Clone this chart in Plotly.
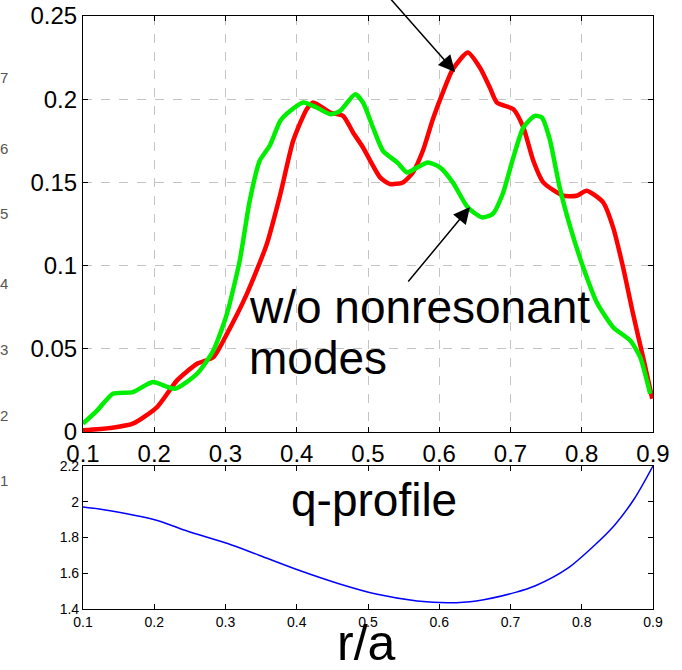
import plotly.graph_objects as go

# ---- data ----
r_with = [0.100, 0.138, 0.170, 0.204, 0.232, 0.260, 0.283, 0.302, 0.330, 0.358, 0.377, 0.395,
          0.414, 0.423, 0.447, 0.465, 0.479, 0.493, 0.517, 0.531, 0.549, 0.563, 0.577, 0.591,
          0.605, 0.619, 0.640, 0.657, 0.671, 0.681, 0.704, 0.718, 0.732, 0.746, 0.774, 0.793,
          0.807, 0.830, 0.844, 0.858, 0.872, 0.886, 0.899]
v_with = [0.001, 0.0024, 0.005, 0.015, 0.031, 0.041, 0.045, 0.059, 0.083, 0.113, 0.143, 0.175,
          0.194, 0.198, 0.192, 0.190, 0.180, 0.171, 0.153, 0.149, 0.150, 0.156, 0.169, 0.188,
          0.204, 0.218, 0.228, 0.219, 0.207, 0.198, 0.194, 0.183, 0.163, 0.150, 0.142, 0.142,
          0.145, 0.138, 0.123, 0.099, 0.071, 0.045, 0.020]

r_wo = [0.100, 0.120, 0.142, 0.170, 0.198, 0.229, 0.260, 0.283, 0.302, 0.320, 0.334, 0.348,
        0.362, 0.377, 0.391, 0.409, 0.428, 0.447, 0.461, 0.482, 0.493, 0.507, 0.521, 0.541,
        0.555, 0.569, 0.584, 0.601, 0.619, 0.640, 0.660, 0.675, 0.689, 0.704, 0.718, 0.734,
        0.744, 0.755, 0.769, 0.784, 0.802, 0.821, 0.844, 0.868, 0.882, 0.896]
v_wo = [0.005, 0.013, 0.023, 0.024, 0.030, 0.026, 0.035, 0.049, 0.071, 0.103, 0.139, 0.163,
        0.172, 0.187, 0.193, 0.198, 0.195, 0.191, 0.193, 0.203, 0.198, 0.183, 0.169, 0.162,
        0.156, 0.159, 0.162, 0.159, 0.150, 0.135, 0.129, 0.131, 0.143, 0.165, 0.183, 0.190,
        0.189, 0.176, 0.147, 0.123, 0.099, 0.078, 0.063, 0.055, 0.045, 0.023]

r_q = [0.1, 0.125, 0.203, 0.247, 0.303, 0.347, 0.402, 0.458, 0.513, 0.569, 0.613, 0.652,
       0.707, 0.735, 0.780, 0.818, 0.846, 0.874, 0.9]
q_vals = [1.971, 1.958, 1.897, 1.835, 1.766, 1.701, 1.618, 1.543, 1.482, 1.445, 1.435, 1.445,
          1.493, 1.530, 1.627, 1.757, 1.869, 2.018, 2.2]

top_yticks = [0, 0.05, 0.1, 0.15, 0.2, 0.25]
top_ylabels = ["0", "0.05", "0.1", "0.15", "0.2", "0.25"]
xticks = [0.1, 0.2, 0.3, 0.4, 0.5, 0.6, 0.7, 0.8, 0.9]
xlabels = ["0.1", "0.2", "0.3", "0.4", "0.5", "0.6", "0.7", "0.8", "0.9"]
q_yticks = [1.4, 1.6, 1.8, 2.0, 2.2]
q_ylabels = ["1.4", "1.6", "1.8", "2", "2.2"]
edge_labels = ["7", "6", "5", "4", "3", "2", "1"]   # cut-off labels of a neighbouring panel
edge_label_y = [78, 148, 213, 283, 350, 415, 480]    # pixel rows

W, H = 682, 670
FONT = "Liberation Sans, Arial, sans-serif"

fig = go.Figure()
fig.add_trace(go.Scatter(x=r_with, y=v_with, mode="lines", xaxis="x", yaxis="y",
                         line=dict(color="#ff0000", width=4.5, shape="spline", smoothing=0.6),
                         showlegend=False, hoverinfo="skip"))
fig.add_trace(go.Scatter(x=r_wo, y=v_wo, mode="lines", xaxis="x", yaxis="y",
                         line=dict(color="#00ee00", width=4.5, shape="spline", smoothing=0.6),
                         showlegend=False, hoverinfo="skip"))
fig.add_trace(go.Scatter(x=r_q, y=q_vals, mode="lines", xaxis="x2", yaxis="y2",
                         line=dict(color="#0000ff", width=1.5, shape="spline", smoothing=0.8),
                         showlegend=False, hoverinfo="skip"))

xdom = [83 / W, 653 / W]
axis_common = dict(showline=True, linecolor="black", linewidth=1.2, mirror="ticks",
                   ticks="inside", ticklen=5, tickcolor="black", zeroline=False,
                   automargin=False)

fig.update_layout(
    width=W, height=H, margin=dict(l=0, r=0, t=0, b=0, autoexpand=False),
    paper_bgcolor="white", plot_bgcolor="white",
    font=dict(family=FONT, color="black"),
    xaxis=dict(domain=xdom, anchor="y", range=[0.1, 0.9], tickvals=xticks, ticktext=xlabels,
               showgrid=True, gridcolor="#c4c4c4", griddash="dash", gridwidth=1,
               tickfont=dict(size=24), ticklabelstandoff=0, **axis_common),
    yaxis=dict(domain=[1 - 432 / H, 1 - 16 / H], anchor="x", range=[0, 0.25],
               tickvals=top_yticks, ticktext=top_ylabels,
               showgrid=True, gridcolor="#c4c4c4", griddash="dash", gridwidth=1,
               tickfont=dict(size=24), **axis_common),
    xaxis2=dict(domain=xdom, anchor="y2", range=[0.1, 0.9], tickvals=xticks, ticktext=xlabels,
                showgrid=False, tickfont=dict(size=14), ticklabelstandoff=0, **axis_common),
    yaxis2=dict(domain=[1 - 609 / H, 1 - 466 / H], anchor="x2", range=[1.4, 2.2],
                tickvals=q_yticks, ticktext=q_ylabels,
                showgrid=False, tickfont=dict(size=14), **axis_common),
)

def px_to_x(px):
    return 0.1 + (px - 83) / 570 * 0.8

def py_to_y(py):
    return (432 - py) / 416 * 0.25

ann = []
# text annotations
ann.append(dict(x=px_to_x(247), y=py_to_y(307), xref="x", yref="y", text="w/o nonresonant",
                showarrow=False, xanchor="left", yanchor="middle",
                font=dict(size=46, family=FONT, color="black")))
ann.append(dict(x=px_to_x(247), y=py_to_y(358), xref="x", yref="y", text="modes",
                showarrow=False, xanchor="left", yanchor="middle",
                font=dict(size=46, family=FONT, color="black")))
ann.append(dict(x=374 / W, y=1 - 500 / H, xref="paper", yref="paper", text="q-profile",
                showarrow=False, xanchor="center", yanchor="middle",
                font=dict(size=46, family=FONT, color="black")))
ann.append(dict(x=366 / W, y=1 - 643 / H, xref="paper", yref="paper", text="r/a",
                showarrow=False, xanchor="center", yanchor="middle",
                font=dict(size=50, family=FONT, color="black")))
# arrows
ann.append(dict(x=px_to_x(470), y=py_to_y(207), ax=px_to_x(407), ay=py_to_y(283),
                xref="x", yref="y", axref="x", ayref="y", text="", showarrow=True,
                arrowhead=2, arrowsize=2.2, arrowwidth=1.5, arrowcolor="black", standoff=0))
ann.append(dict(x=px_to_x(455), y=py_to_y(72), ax=px_to_x(388), ay=py_to_y(-4),
                xref="x", yref="y", axref="x", ayref="y", text="", showarrow=True,
                arrowhead=2, arrowsize=2.2, arrowwidth=1.5, arrowcolor="black", standoff=0))
# cut-off labels at the left edge
for lab, yy in zip(edge_labels, edge_label_y):
    ann.append(dict(x=4 / W, y=1 - yy / H, xref="paper", yref="paper", text=lab,
                    showarrow=False, xanchor="center", yanchor="middle",
                    font=dict(size=15, family=FONT, color="#555555")))

fig.update_layout(annotations=ann)
fig.write_html("out.html")
